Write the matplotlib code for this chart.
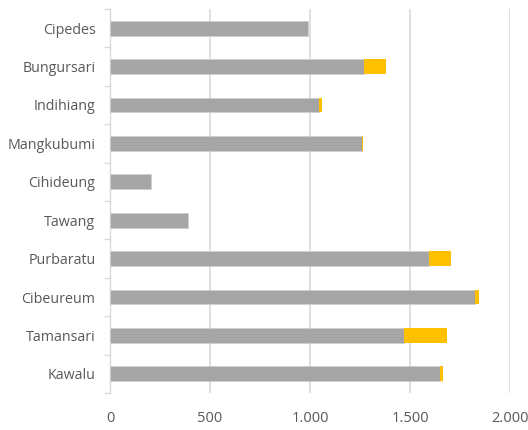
import matplotlib
matplotlib.use("Agg")
import matplotlib.pyplot as plt
import numpy as np
from matplotlib.ticker import FixedLocator

categories = ["Cipedes", "Bungursari", "Indihiang", "Mangkubumi", "Cihideung",
              "Tawang", "Purbaratu", "Cibeureum", "Tamansari", "Kawalu"]
series_gray = [990, 1272, 1045, 1261, 203, 389, 1593, 1823, 1472, 1648]
series_gold = [0, 110, 16, 5, 0, 0, 110, 23, 215, 17]
x_ticks = [0, 500, 1000, 1500, 2000]
x_tick_labels = ["0", "500", "1.000", "1.500", "2.000"]

plt.rcParams['font.family'] = ['Open Sans', 'DejaVu Sans']

fig = plt.figure(figsize=(5.28, 4.30), dpi=100)
ax = fig.add_axes([110/528, 1-393/430, 400/528, 384/430])

y = np.arange(len(categories))
h = 0.39
ax.barh(y, series_gray, height=h, color="#a5a5a5", edgecolor="#d0d0d0", linewidth=0.6, zorder=3)
ax.barh(y, series_gold, left=series_gray, height=h, color="#ffc000",
        edgecolor="none", linewidth=0, zorder=3)

ax.set_xlim(0, 2000)
ax.set_ylim(len(categories)-0.5, -0.5)
ax.set_yticks(y)
ax.set_yticklabels(categories)
ax.yaxis.set_minor_locator(FixedLocator(np.arange(-0.5, len(categories), 1.0)))
ax.tick_params(axis='y', which='major', length=0, pad=10.5, labelsize=10.3, labelcolor="#595959")
ax.tick_params(axis='y', which='minor', length=4, color="#d9d9d9", width=1)
ax.set_xticks(x_ticks)
ax.set_xticklabels(x_tick_labels)
ax.tick_params(axis='x', length=0, pad=13, labelsize=10.5, labelcolor="#595959")
ax.grid(axis='x', color="#d9d9d9", linewidth=1.2, zorder=0)
for s in ["top", "right", "bottom"]:
    ax.spines[s].set_visible(False)
ax.spines["left"].set_color("#d9d9d9")
ax.spines["left"].set_linewidth(1)

fig.savefig("out.png", dpi=100)
